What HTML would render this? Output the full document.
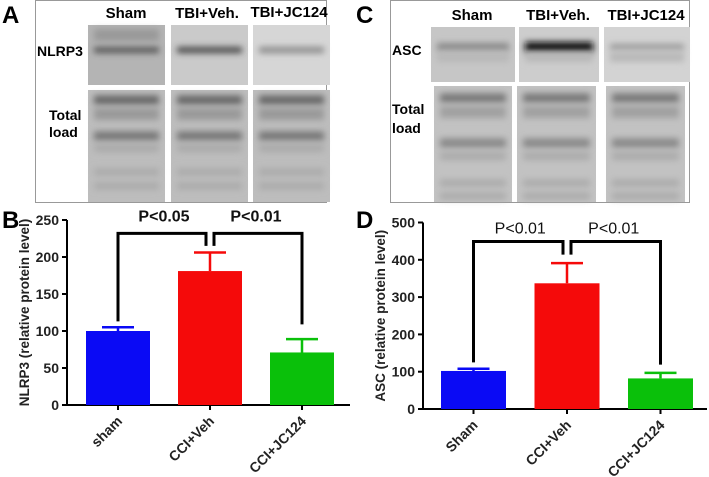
<!DOCTYPE html>
<html><head><meta charset="utf-8"><style>
body{margin:0;background:#fff;width:709px;height:477px;overflow:hidden}
svg{display:block;font-family:"Liberation Sans",Arial,sans-serif}
</style></head><body>
<svg id="s" width="709" height="477" viewBox="0 0 709 477">
<defs>
<filter id="bl" x="-20%" y="-300%" width="140%" height="700%"><feGaussianBlur stdDeviation="3.2"/></filter>
</defs>
<g>
<text x="2" y="23" font-size="24" font-weight="bold">A</text>
<rect x="35.5" y="0.5" width="291" height="202" fill="#fff" stroke="#999"/>
<text x="126" y="18" font-size="15" font-weight="bold" text-anchor="middle">Sham</text>
<text x="207" y="18" font-size="15" font-weight="bold" text-anchor="middle">TBI+Veh.</text>
<text x="289" y="17" font-size="15" font-weight="bold" text-anchor="middle">TBI+JC124</text>
<text x="37" y="56" font-size="14" font-weight="bold">NLRP3</text>
<text x="49" y="120" font-size="14" font-weight="bold">Total</text>
<text x="49" y="137" font-size="14" font-weight="bold">load</text>
<g id="blotA"></g>
</g>
<g>
<text x="356" y="23" font-size="24" font-weight="bold">C</text>
<rect x="390.5" y="0.5" width="299" height="202" fill="#fff" stroke="#999"/>
<text x="472" y="20" font-size="15" font-weight="bold" text-anchor="middle">Sham</text>
<text x="558" y="20" font-size="15" font-weight="bold" text-anchor="middle">TBI+Veh.</text>
<text x="646" y="20" font-size="15" font-weight="bold" text-anchor="middle">TBI+JC124</text>
<text x="392" y="55" font-size="14" font-weight="bold">ASC</text>
<text x="392" y="114" font-size="14" font-weight="bold">Total</text>
<text x="392" y="133" font-size="14" font-weight="bold">load</text>
<g id="blotC"></g>
</g>
<text x="2" y="228" font-size="24" font-weight="bold">B</text>
<text x="356" y="228" font-size="24" font-weight="bold">D</text>
<g id="chartB"></g>
<g id="chartD"></g>
</svg>
<script>
// Chart B data
const catsB = ["sham", "CCI+Veh", "CCI+JC124"];
const valsB = [100, 181, 71];
const errsB = [5, 25, 18];
const ticksB = [0, 50, 100, 150, 200, 250];
const pB = ["P<0.05", "P<0.01"];
// Chart D data
const catsD = ["Sham", "CCI+Veh", "CCI+JC124"];
const valsD = [102, 337, 82];
const errsD = [6, 54, 15];
const ticksD = [0, 100, 200, 300, 400, 500];
const pD = ["P<0.01", "P<0.01"];
const colors = ["#0a0af5", "#f50a0a", "#0ac00a"];

const NS = "http://www.w3.org/2000/svg";
function mk(tag, attrs, parent, txt){
  const e = document.createElementNS(NS, tag);
  for (const k in attrs) e.setAttribute(k, attrs[k]);
  if (txt !== undefined) e.textContent = txt;
  parent.appendChild(e); return e;
}

function drawChart(g, cats, vals, errs, ticks, pLabels, cfg){
  const max = ticks[ticks.length-1];
  const y = v => cfg.y0 - v / max * (cfg.y0 - cfg.yTop);
  const x = i => cfg.x0 + cfg.pad + i * cfg.step;
  const ax = mk("line", {x1:cfg.x0, y1:y(max), x2:cfg.x0, y2:cfg.y0, stroke:"#000", "stroke-width":2}, g);
  
  
  const xa = mk("line", {x1:cfg.x0-5, y1:cfg.y0, x2:cfg.xEnd, y2:cfg.y0, stroke:"#000", "stroke-width":2}, g);
  
  
  ticks.forEach(t => {
    const tl = mk("line", {x1:cfg.x0-5, y1:y(t), x2:cfg.x0, y2:y(t), stroke:"#000", "stroke-width":2}, g);
    
    
    const tx = mk("text", {x:cfg.x0-8, y:y(t)+5, "font-size":14, "font-weight":"bold", "text-anchor":"end", fill:"#222"}, g, t);
    
    
  });
  const yt = mk("text", {x:0, y:0, "font-size":13.5, "font-weight":"bold", "text-anchor":"middle", fill:"#222",
    transform:`translate(${cfg.titleX},${(cfg.y0+y(max))/2}) rotate(-90)`}, g, cfg.title);
  
  
  cats.forEach((c, i) => {
    const cx = x(i) + cfg.bw/2;
    const eb = mk("path", {d:`M${cx},${y(vals[i])}V${y(vals[i]+errs[i])}M${cx-16},${y(vals[i]+errs[i])}H${cx+16}`, stroke:colors[i], "stroke-width":2.5, fill:"none"}, g);
    
    
    const r = mk("rect", {x:x(i), y:y(vals[i]), width:cfg.bw, height:cfg.y0 - y(vals[i]), fill:colors[i]}, g);
    
    
    const tk = mk("line", {x1:cx, y1:cfg.y0, x2:cx, y2:cfg.y0+5, stroke:"#000", "stroke-width":2}, g);
    
    
    const lb = mk("text", {x:0, y:0, "font-size":14, "font-weight":"bold", "text-anchor":"end", fill:"#222",
      transform:`translate(${cx+5},${cfg.y0+17}) rotate(-45)`}, g, c);
    
    
  });
  const c0 = x(0)+cfg.bw/2, c1 = x(1)+cfg.bw/2, c2 = x(2)+cfg.bw/2;
  const top = y(cfg.brTop), mid = y(cfg.brMid);
  const b1 = mk("path", {d:`M${c0},${y(cfg.brL)}V${top}H${c1-4}V${mid}`, stroke:"#000", "stroke-width":3, fill:"none"}, g);
  
  
  const b2 = mk("path", {d:`M${c1+4},${mid}V${top}H${c2}V${y(cfg.brR)}`, stroke:"#000", "stroke-width":3, fill:"none"}, g);
  
  
  const p1 = mk("text", {x:(c0+c1)/2, y:top-cfg.pOff, "font-size":16, "font-weight":cfg.pw, "text-anchor":"middle", fill:"#111"}, g, pLabels[0]);
  
  
  const p2 = mk("text", {x:(c1+c2)/2, y:top-cfg.pOff, "font-size":16, "font-weight":cfg.pw, "text-anchor":"middle", fill:"#111"}, g, pLabels[1]);
  
  
}

drawChart(document.getElementById("chartB"), catsB, valsB, errsB, ticksB, pB,
  {x0:67, y0:405, yTop:220, xEnd:350, pad:19, step:92, bw:64, title:"NLRP3 (relative protein level)", titleX:29,
   brTop:232, brMid:215, brL:113, brR:109, pOff:12, pw:"bold"});
drawChart(document.getElementById("chartD"), catsD, valsD, errsD, ticksD, pD,
  {x0:423, y0:409, yTop:222.5, xEnd:707, pad:18, step:93.5, bw:65, title:"ASC  (relative protein level)", titleX:385,
   brTop:449, brMid:414, brL:125, brR:119, pOff:8, pw:"normal"});

function lane(g, x, yy, w, h, bg, bands){
  const r = mk("rect", {x:x, y:yy, width:w, height:h, fill:bg}, g);
  
  
  bands.forEach(b => {
    const e = mk("rect", {x:x+6, y:yy+b[0]-b[1]/2, width:w-12, height:b[1], fill:b[2], filter:"url(#bl)"}, g);
    
    
  });
}
const gA = document.getElementById("blotA");
const load = [[10,9,"#666"],[24,12,"#999"],[46,9,"#777"],[58,8,"#aaa"],[82,7,"#aaa"],[96,7,"#aaa"]];
[[88,"#b4b4b4","#555",[10,12,"#999"]],[171,"#cacaca","#444",null],[253,"#d6d6d6","#888",null]].forEach((l,i)=>{
  const b = [[25,6,l[2]]];
  if (l[3]) b.push(l[3]);
  lane(gA, l[0], 25, 77, 60, l[1], b);
  lane(gA, l[0], 90, 77, 112, "#bdbdbd", load);
});
const gC = document.getElementById("blotC");
[[431,84,"#c6c6c6","#8a8a8a",8],[519,80,"#cdcdcd","#111",10],[604,86,"#d3d3d3","#999",6]].forEach(l=>{
  lane(gC, l[0], 27, l[1], 55, l[2], [[20,l[4],l[3]],[30,10,"#b8b8b8"]]);
});
[[434,78],[517,79],[606,79]].forEach(l=>{
  lane(gC, l[0], 86, l[1], 116, "#c2c2c2", [[12,9,"#777"],[26,12,"#a0a0a0"],[57,9,"#888"],[70,8,"#aaa"],[97,7,"#aaa"],[110,7,"#aaa"]]);
});
</script>
</body></html>
